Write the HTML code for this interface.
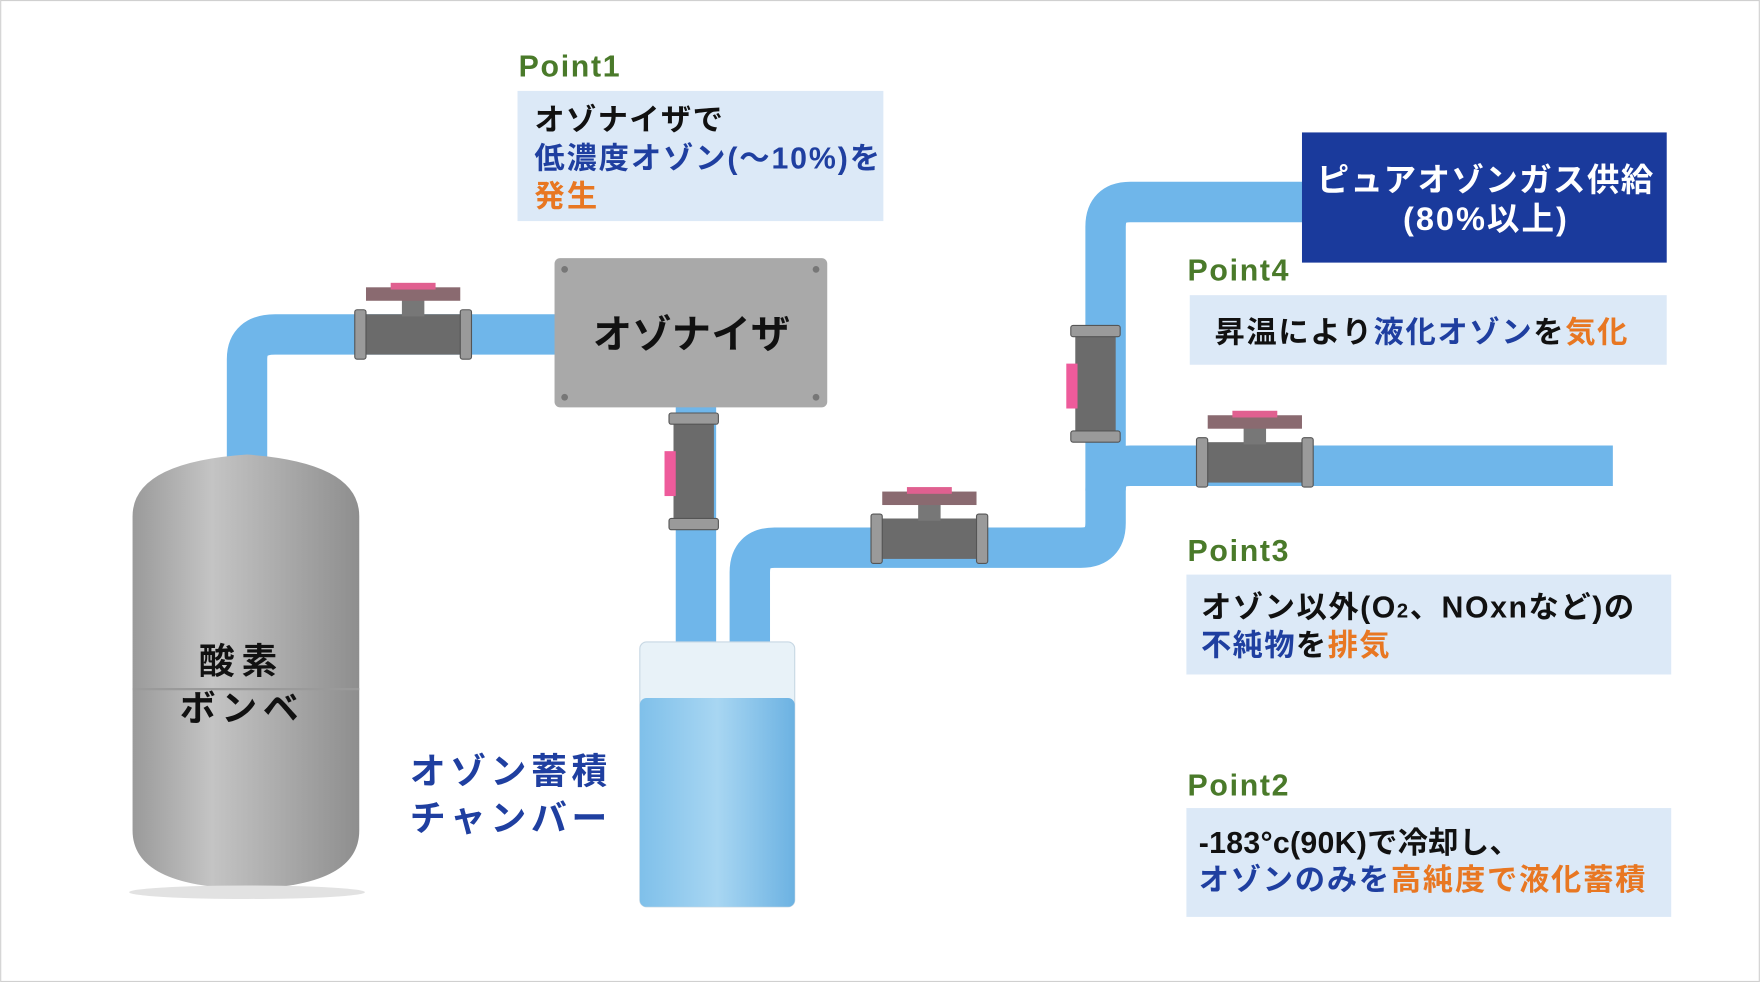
<!DOCTYPE html>
<html><head><meta charset="utf-8"><style>
html,body{margin:0;padding:0;background:#fff;}
svg{display:block;font-family:"Liberation Sans","Noto Sans CJK JP",sans-serif;font-weight:bold;}
</style></head><body>
<svg width="1760" height="982" viewBox="0 0 1568 875" xmlns="http://www.w3.org/2000/svg">
<defs>
<linearGradient id="tank" x1="0" x2="1"><stop offset="0" stop-color="#9a9a9a"/><stop offset="0.35" stop-color="#c4c4c4"/><stop offset="1" stop-color="#8e8e8e"/></linearGradient>
<linearGradient id="water" x1="0" x2="1"><stop offset="0" stop-color="#7fc0ea"/><stop offset="0.5" stop-color="#a8d6f2"/><stop offset="1" stop-color="#6cb2e2"/></linearGradient>
<g id="valveH">
<rect x="-46" y="-18" width="92" height="36" fill="#6b6b6b"/>
<rect x="-52" y="-22" width="10" height="44" rx="2" fill="#9a9a9a" stroke="#555"/>
<rect x="42" y="-22" width="10" height="44" rx="2" fill="#9a9a9a" stroke="#555"/>
<rect x="-10" y="-32" width="20" height="16" fill="#777"/>
<rect x="-42" y="-42" width="84" height="12" fill="#8a6a70"/>
<rect x="-20" y="-46" width="40" height="6" fill="#e06090"/>
</g>
<g id="valveV">
<rect x="-18" y="-46" width="36" height="92" fill="#6b6b6b"/>
<rect x="-22" y="-52" width="44" height="10" rx="2" fill="#9a9a9a" stroke="#555"/>
<rect x="-22" y="42" width="44" height="10" rx="2" fill="#9a9a9a" stroke="#555"/>
<rect x="-26" y="-18" width="10" height="40" fill="#ee5b9b"/>
</g>
</defs>
<rect x="0.5" y="0.5" width="1567" height="874" fill="#fff" stroke="#d0d0d0"/>
<g fill="none" stroke="#6fb6ea" stroke-width="36" stroke-linejoin="round">
<path d="M220 410 V320 Q220 298 245 298 H500"/>
<path d="M620 360 V578"/>
<path d="M668 578 V510 Q668 488 690 488 H963 Q985 488 985 466 V202 Q985 180 1007 180 H1165"/>
<path d="M985 437 Q985 415 1007 415 H1437"/>
</g>
<use href="#valveH" x="368" y="298"/>
<use href="#valveH" x="828" y="480"/>
<use href="#valveH" x="1118" y="412"/>
<use href="#valveV" x="618" y="420"/>
<use href="#valveV" x="976" y="342"/>
<path d="M118 460 Q118 412 220 405 Q320 412 320 460 V740 Q320 790 220 792 Q118 790 118 740 Z" fill="url(#tank)"/>
<line x1="118" y1="614" x2="320" y2="614" stroke="#9a9a9a" stroke-width="2"/>
<ellipse cx="220" cy="795" rx="105" ry="6" fill="#e2e2e2"/>
<text x="177" y="600" font-size="32" textLength="70" fill="#111">酸素</text>
<text x="160" y="642" font-size="32" textLength="106" fill="#111">ボンベ</text>
<rect x="494" y="230" width="243" height="133" rx="5" fill="#a9a9a9"/>
<circle cx="503" cy="240" r="3" fill="#777"/><circle cx="503" cy="354" r="3" fill="#777"/><circle cx="727" cy="354" r="3" fill="#777"/><circle cx="727" cy="240" r="3" fill="#777"/>
<text x="528" y="310" font-size="35" textLength="176" fill="#111">オゾナイザ</text>
<rect x="570" y="572" width="138" height="236" rx="6" fill="#e8f2f8" stroke="#c8d8e4"/>
<rect x="570" y="622" width="138" height="186" rx="6" fill="url(#water)"/>
<text x="365" y="698" font-size="32" textLength="176" fill="#1f3fa0">オゾン蓄積</text>
<text x="365" y="740" font-size="32" textLength="176" fill="#1f3fa0">チャンバー</text>
<text x="462" y="68" font-size="27" textLength="90" fill="#4a7a2a">Point1</text>
<rect x="461" y="81" width="326" height="116" fill="#dce9f7"/>
<text x="476" y="116" font-size="27" textLength="168" fill="#111">オゾナイザで</text>
<text x="476" y="150" font-size="27" textLength="308" fill="#1f3fa0">低濃度オゾン(〜10%)を</text>
<text x="476" y="184" font-size="27" textLength="56" fill="#e87722">発生</text>
<rect x="1160" y="118" width="325" height="116" fill="#1a3a9c"/>
<text x="1173" y="170" font-size="29" textLength="300" fill="#fff">ピュアオゾンガス供給</text>
<text x="1250" y="205" font-size="29" textLength="146" fill="#fff">(80%以上)</text>
<text x="1058" y="250" font-size="27" textLength="90" fill="#4a7a2a">Point4</text>
<rect x="1060" y="263" width="425" height="62" fill="#dce9f7"/>
<text x="1082" y="305" font-size="27" textLength="368" fill="#111">昇温により<tspan fill="#1f3fa0">液化オゾン</tspan>を<tspan fill="#e87722">気化</tspan></text>
<text x="1058" y="500" font-size="27" textLength="90" fill="#4a7a2a">Point3</text>
<rect x="1057" y="512" width="432" height="89" fill="#dce9f7"/>
<text x="1070" y="550" font-size="27" textLength="386" fill="#111">オゾン以外(O<tspan font-size="18">2</tspan>、NOxnなど)の</text>
<text x="1070" y="584" font-size="27" textLength="168" fill="#1f3fa0">不純物<tspan fill="#111">を</tspan><tspan fill="#e87722">排気</tspan></text>
<text x="1058" y="709" font-size="27" textLength="90" fill="#4a7a2a">Point2</text>
<rect x="1057" y="720" width="432" height="97" fill="#dce9f7"/>
<text x="1068" y="760" font-size="27" textLength="286" fill="#111">-183°c(90K)で冷却し、</text>
<text x="1068" y="793" font-size="27" textLength="398" fill="#1f3fa0">オゾンのみを<tspan fill="#e87722">高純度で液化蓄積</tspan></text>
</svg>
</body></html>
